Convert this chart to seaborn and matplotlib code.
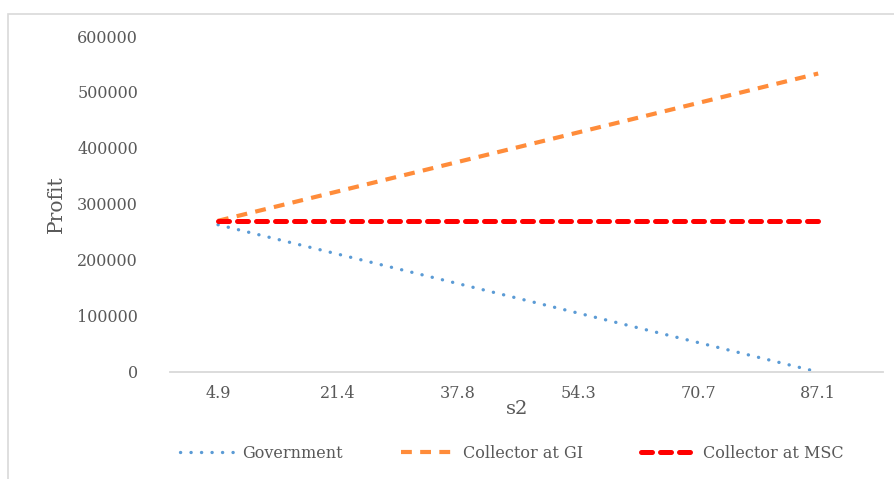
import matplotlib
matplotlib.use("Agg")
import matplotlib.pyplot as plt
from matplotlib.patches import Rectangle
import seaborn as sns
import pandas as pd

# s2 levels on the horizontal axis
s2_levels = ["4.9", "21.4", "37.8", "54.3", "70.7", "87.1"]

# profit of each party for every s2 level
government = [263000, 210400, 157800, 105200, 52600, 0]
collector_gi = [270000, 322600, 375200, 427800, 480400, 533000]
collector_msc = [270000, 270000, 270000, 270000, 270000, 270000]

series_names = ["Government", "Collector at GI", "Collector at MSC"]

rows = []
for name, vals in zip(series_names, [government, collector_gi, collector_msc]):
    for i, v in enumerate(vals):
        rows.append({"pos": i, "s2": s2_levels[i], "Profit": v, "series": name})
df = pd.DataFrame(rows)

sns.set_theme(style="white")
plt.rcParams["font.family"] = ["DejaVu Serif"]

W, H = 895, 479
fig = plt.figure(figsize=(W / 100, H / 100), dpi=100)
ax = fig.add_axes([170 / W, (H - 372) / H, (883 - 170) / W, (372 - 36) / H])

styles = {
    "Government": dict(color="#5B9BD5", linewidth=2.4, dashes=(0.05, 3.1),
                       dash_capstyle="round"),
    "Collector at GI": dict(color="#FF8C3A", linewidth=3.0, dashes=(2.6, 2.0),
                            dash_capstyle="butt"),
    "Collector at MSC": dict(color="#FF0000", linewidth=3.6, dashes=(2.2, 1.6),
                             dash_capstyle="round"),
}

for name in series_names:
    sub = df[df["series"] == name]
    st = styles[name]
    sns.lineplot(data=sub, x="pos", y="Profit", ax=ax, label=name,
                 color=st["color"], linewidth=st["linewidth"])
    line = ax.lines[-1]
    line.set_dashes(st["dashes"])
    line.set_dash_capstyle(st["dash_capstyle"])

ax.set_xlim(-0.4, 5.54)
ax.set_ylim(0, 600000)
ax.set_xticks(range(len(s2_levels)))
ax.set_xticklabels(s2_levels)
ax.set_yticks([0, 100000, 200000, 300000, 400000, 500000, 600000])
ax.set_yticklabels(["0", "100000", "200000", "300000", "400000", "500000", "600000"])

text_color = "#595959"
ax.tick_params(axis="y", length=0, pad=23, labelsize=11.5, labelcolor=text_color)
ax.tick_params(axis="x", length=0, pad=9, labelsize=11.5, labelcolor=text_color)

for side in ["left", "right", "top"]:
    ax.spines[side].set_visible(False)
ax.spines["bottom"].set_color("#D9D9D9")
ax.spines["bottom"].set_linewidth(1.3)
ax.grid(False)

ax.set_xlabel("s2", fontsize=14, color=text_color)
ax.set_ylabel("Profit", fontsize=14.5, color=text_color)
ax.xaxis.set_label_coords((517 - 170) / (883 - 170), -0.083)
ax.yaxis.set_label_coords((66 - 170) / (883 - 170), 0.5)

handles, labels = ax.get_legend_handles_labels()
ax.get_legend().remove()
fig.legend(handles, labels, loc="center", bbox_to_anchor=(0.572, (H - 453) / H),
           ncol=3, frameon=False, fontsize=11.5, handlelength=3.4,
           columnspacing=3.6, handletextpad=0.5, labelcolor=text_color)

# light outer frame around the chart area
fig.patches.append(Rectangle((8 / W, -0.2), 1.2, (H - 14) / H + 0.2,
                             transform=fig.transFigure, fill=False,
                             edgecolor="#D9D9D9", linewidth=1.2))

fig.savefig("out.png", dpi=100, facecolor="white")
